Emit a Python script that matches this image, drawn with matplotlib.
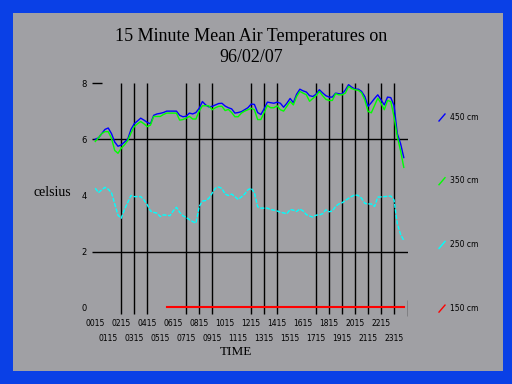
import numpy as np
import matplotlib
matplotlib.use("Agg")
import matplotlib.pyplot as plt
from matplotlib.patches import Rectangle
from matplotlib.lines import Line2D

# 15 minute means, 0015 .. 2400 (96 values)
t450 = [6.00, 6.05, 6.20, 6.35, 6.40, 6.20, 5.90, 5.75, 5.80, 5.90,
        6.00, 6.35, 6.55, 6.65, 6.75, 6.68, 6.60, 6.55, 6.85, 6.90,
        6.92, 6.95, 7.00, 7.00, 7.00, 7.00, 6.85, 6.80, 6.82, 6.93,
        6.90, 6.95, 7.10, 7.34, 7.22, 7.15, 7.17, 7.22, 7.27, 7.28,
        7.18, 7.12, 7.08, 6.93, 6.95, 6.98, 7.05, 7.12, 7.25, 7.24,
        6.95, 6.88, 7.08, 7.32, 7.30, 7.28, 7.32, 7.28, 7.14, 7.28,
        7.45, 7.30, 7.60, 7.78, 7.72, 7.68, 7.55, 7.52, 7.60, 7.76,
        7.65, 7.55, 7.50, 7.50, 7.64, 7.62, 7.60, 7.75, 7.94, 7.85,
        7.78, 7.78, 7.70, 7.52, 7.17, 7.30, 7.45, 7.58, 7.40, 7.22,
        7.50, 7.48, 7.20, 6.20, 5.85, 5.35]
t350 = [5.92, 6.05, 6.20, 6.27, 6.27, 6.04, 5.60, 5.50, 5.68, 5.80,
        5.95, 6.22, 6.45, 6.55, 6.63, 6.55, 6.45, 6.50, 6.81, 6.81,
        6.81, 6.88, 6.93, 6.93, 6.93, 6.93, 6.68, 6.70, 6.75, 6.81,
        6.72, 6.72, 7.00, 7.19, 7.19, 7.19, 7.05, 7.12, 7.17, 7.17,
        7.02, 7.06, 6.95, 6.80, 6.80, 6.93, 7.00, 7.05, 7.10, 7.05,
        6.70, 6.70, 6.95, 7.20, 7.12, 7.12, 7.19, 7.05, 7.00, 7.17,
        7.34, 7.22, 7.52, 7.70, 7.64, 7.58, 7.35, 7.45, 7.55, 7.70,
        7.55, 7.42, 7.38, 7.38, 7.62, 7.58, 7.58, 7.64, 7.88, 7.80,
        7.76, 7.74, 7.65, 7.40, 6.99, 6.94, 7.20, 7.46, 7.28, 7.05,
        7.38, 7.34, 6.80, 6.10, 5.60, 5.00]
t250 = [4.26, 4.10, 4.20, 4.29, 4.22, 4.10, 3.70, 3.30, 3.19, 3.50,
        3.75, 4.00, 3.96, 3.96, 3.96, 3.84, 3.67, 3.45, 3.40, 3.37,
        3.25, 3.31, 3.30, 3.28, 3.45, 3.58, 3.40, 3.28, 3.22, 3.14,
        3.07, 3.02, 3.60, 3.80, 3.82, 3.90, 4.08, 4.26, 4.30, 4.25,
        4.05, 4.00, 4.05, 3.96, 3.86, 3.95, 4.05, 4.20, 4.26, 4.10,
        3.60, 3.55, 3.55, 3.55, 3.50, 3.48, 3.45, 3.40, 3.38, 3.35,
        3.50, 3.48, 3.43, 3.52, 3.45, 3.32, 3.27, 3.23, 3.30, 3.31,
        3.35, 3.49, 3.42, 3.45, 3.61, 3.70, 3.74, 3.82, 3.90, 3.97,
        4.02, 4.00, 3.90, 3.72, 3.70, 3.70, 3.61, 3.94, 3.95, 3.96,
        3.97, 3.98, 3.84, 3.00, 2.62, 2.40]
t150 = [np.nan] * 22 + [0.05] * 74

labels = ["450 cm", "350 cm", "250 cm", "150 cm"]
colors = ["#0000ff", "#00ff00", "#00ffff", "#ff0000"]
times = ["%02d15" % h for h in range(24)]
grid_idx = [8, 12, 16, 28, 32, 36, 48, 52, 56, 68, 72, 76, 80, 84, 88, 92]

W, H = 512, 384
fig = plt.figure(figsize=(W / 100, H / 100), dpi=100, facecolor="#0a40e6")
fig.patches.append(Rectangle((13 / W, 13 / H), 490 / W, 358 / H, transform=fig.transFigure,
                             facecolor="#a0a0a4", edgecolor="none", zorder=-5))

ax = fig.add_axes([92 / W, (H - 317.8) / H, 316 / W, (317.8 - 81.6) / H])
ax.set_zorder(2)
ax.set_facecolor("none")
for s in ax.spines.values():
    s.set_visible(False)
ax.set_xlim(-1, 96.3)
ax.set_ylim(-0.35, 8.05)

x = np.arange(96)
ax.vlines(grid_idx, -0.22, 8, color="black", lw=1)
ax.hlines([2, 6], -1, 96.3, color="black", lw=1)
ax.hlines(8, -1, 2, color="black", lw=1)
ax.vlines(96.3, -0.28, 0.28, color="black", lw=1)

for s, c in zip([t450, t350, t250, t150], colors):
    ax.plot(x, s, color=c, lw=1.5 if c == "#ff0000" else 1,
            ls=(0, (3, 1)) if c == "#00ffff" else "-")

ax.set_yticks([0, 2, 4, 6, 8])
ax.set_yticklabels(["0", "2", "4", "6", "8"], fontsize=6)
ax.tick_params(axis="y", length=0, pad=4)
ax.set_xticks(range(0, 96, 8))
ax.set_xticklabels(times[0::2], fontsize=5.5)
ax.set_xticks(range(4, 96, 8), minor=True)
ax.set_xticklabels(times[1::2], minor=True, fontsize=5.5)
ax.tick_params(axis="x", which="major", length=0, pad=1)
ax.tick_params(axis="x", which="minor", length=0, pad=12)

serif = ["Liberation Serif", "DejaVu Serif"]
fig.text(251 / W, 1 - 47 / H, "15 Minute Mean Air Temperatures on\n96/02/07",
         ha="center", va="center", fontsize=13, family=serif, linespacing=1.25)
fig.text(52 / W, 1 - 192 / H, "celsius", ha="center", va="center", fontsize=10, family=serif)
fig.text(236 / W, 1 - 352 / H, "TIME", ha="center", va="center", fontsize=9.5, family=serif)

for i, (lab, c) in enumerate(zip(labels, colors)):
    yy = 117 + i * 63.7
    fig.add_artist(Line2D([439 / W, 445 / W], [1 - (yy + 4) / H, 1 - (yy - 3) / H],
                          color=c, lw=1, transform=fig.transFigure))
    fig.text(450 / W, 1 - yy / H, lab, ha="left", va="center", fontsize=5.5)

fig.savefig("out.png", dpi=100, facecolor=fig.get_facecolor())
